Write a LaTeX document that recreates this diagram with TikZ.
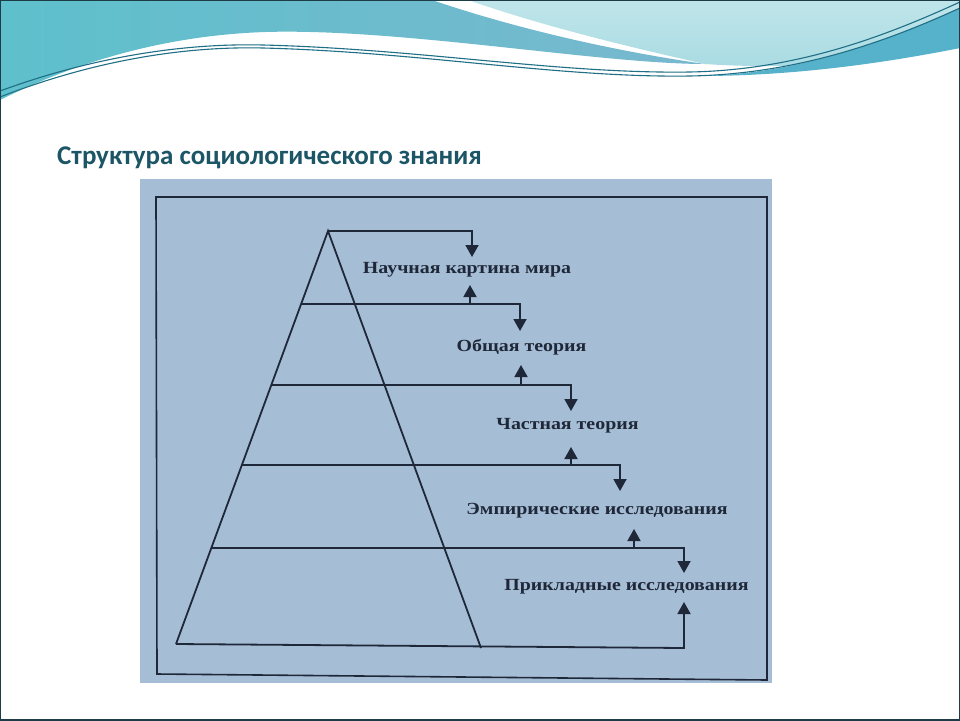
\documentclass[tikz,border=0pt]{standalone}
\usepackage{fontspec}
\setmainfont{Liberation Serif}
\newfontfamily\titlefont{Carlito}
\newfontfamily\labfont[FakeStretch=1.17]{Liberation Serif}
\usetikzlibrary{arrows.meta,calc}
\definecolor{scanbg}{HTML}{A6BDD6}
\definecolor{ink}{HTML}{1F2838}
\definecolor{titlecol}{HTML}{1B5566}
\definecolor{waveA}{HTML}{78B8CE}
\definecolor{waveAc}{HTML}{5EC0CC}
\definecolor{waveB}{HTML}{A9DBE2}
\definecolor{waveBt}{HTML}{BFE5EA}
\definecolor{waveC}{HTML}{56B1CB}
\definecolor{waveline}{HTML}{1F6F86}
\definecolor{slideframe}{HTML}{1E3C48}
\tikzset{
  ln/.style={draw=ink, line width=1.8pt},
  arr/.style={ln, -{Triangle[width=13pt,length=12pt]}},
  lab/.style={font=\labfont\bfseries\fontsize{17}{19}\selectfont, text=ink, inner sep=0pt},
  wline/.style={draw=waveline, line width=1.1pt},
}
\begin{document}
\begin{tikzpicture}[x=1pt,y=-1pt]
\useasboundingbox (0,0) rectangle (960,720);
\fill[white] (0,0) rectangle (960,720);
% --- top wave band ---
\shade[left color=waveAc, right color=waveA]
  (0,0) -- (432,0) .. controls (520,30) and (620,52) .. (705,64)
  .. controls (600,64) and (400,28) .. (265,32)
  .. controls (150,36) and (60,70) .. (0,100) -- cycle;
\shade[top color=waveBt, bottom color=waveB]
  (468,0) -- (960,0) -- (960,48)
  .. controls (880,62) and (790,70) .. (705,64)
  .. controls (620,45) and (540,25) .. (468,0) -- cycle;
\fill[waveC] (700,76) .. controls (800,74) and (890,40) .. (960,8)
  -- (960,48) .. controls (880,64) and (790,76) .. (700,76) -- cycle;
\draw[wline] (0,97) .. controls (90,62) and (180,46) .. (263,48)
  .. controls (420,52) and (560,78) .. (690,76)
  .. controls (800,74) and (890,40) .. (960,8);
\draw[wline] (0,91) .. controls (90,58) and (180,43) .. (263,45)
  .. controls (420,49) and (560,74) .. (690,72)
  .. controls (800,70) and (890,34) .. (960,2);
% slide frame
\draw[slideframe, line width=2pt] (0,0) rectangle (960,720);
% title
\node[anchor=base west, inner sep=0pt, text=titlecol,
      font=\titlefont\bfseries\fontsize{27}{30}\selectfont] (title) at (57,164)
  {Структура социологического знания};
% --- scanned figure ---
\fill[scanbg] (140,179) rectangle (772,683);
\draw[ink, line width=1.6pt] (156,197) -- (767,197) -- (767,680) -- (157,674) -- cycle;
% pyramid
\coordinate (A) at (328,231);
\coordinate (BL) at (176,644);
\coordinate (BR) at (481,648);
\coordinate (BE) at (684,648);
\draw[ln] (BL) -- (A) -- (BR);
\coordinate (L1) at ($(A)!{73/413}!(BL)$);
\coordinate (L2) at ($(A)!{154/413}!(BL)$);
\coordinate (L3) at ($(A)!{234/413}!(BL)$);
\coordinate (L4) at ($(A)!{317/413}!(BL)$);
% down arrow tips
\coordinate (d0) at (472,257);
\coordinate (d1) at (520,331);
\coordinate (d2) at (571,411);
\coordinate (d3) at (620,491);
\coordinate (d4) at (684,573);
% up arrows
\coordinate (u1s) at (470,304); \coordinate (u1) at (470,285);
\coordinate (u2s) at (521,385); \coordinate (u2) at (521,365);
\coordinate (u3s) at (571,465); \coordinate (u3) at (571,447);
\coordinate (u4s) at (634,548); \coordinate (u4) at (634,529);
\coordinate (u5) at (684,602);
\draw[arr] (A) -| (d0);
\draw[arr] (L1) -| (d1);
\draw[arr] (L2) -| (d2);
\draw[arr] (L3) -| (d3);
\draw[arr] (L4) -| (d4);
\draw[arr] (BL) -- (BE) -- (u5);
\draw[arr] (u1s) -- (u1);
\draw[arr] (u2s) -- (u2);
\draw[arr] (u3s) -- (u3);
\draw[arr] (u4s) -- (u4);
% labels
\node[lab] (t1) at (467,270) {Научная картина мира};
\node[lab] (t2) at (521.5,347) {Общая теория};
\node[lab] (t3) at (567.5,426) {Частная теория};
\node[lab] (t4) at (597,511) {Эмпирические исследования};
\node[lab] (t5) at (626.5,587) {Прикладные исследования};
\end{tikzpicture}
\end{document}
